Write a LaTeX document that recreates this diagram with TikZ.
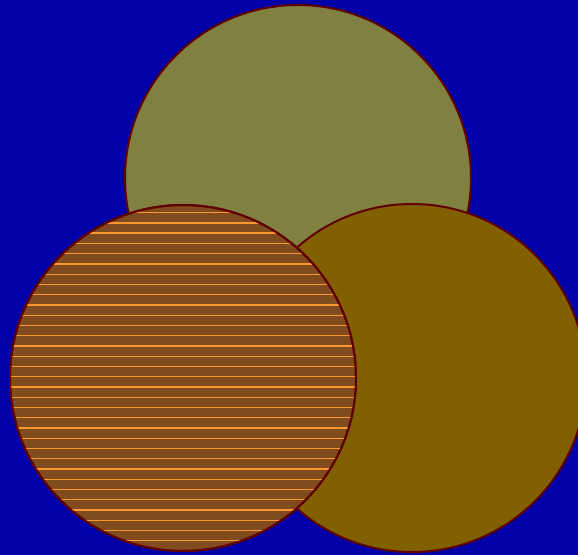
\documentclass[tikz,border=0pt]{standalone}
\usepackage{xcolor}
\usepackage{tikz}
\definecolor{bgblue}{RGB}{0,0,168}
\definecolor{topolive}{RGB}{128,128,64}
\definecolor{rightolive}{RGB}{128,96,0}
\definecolor{leftbrown}{RGB}{128,76,30}
\definecolor{hatchorange}{RGB}{250,150,50}
\definecolor{rimred}{RGB}{96,0,0}
\tikzset{
  disc/.style={draw=rimred, line width=2pt},
  topdisc/.style={disc, fill=topolive},
  rightdisc/.style={disc, fill=rightolive},
  leftdisc/.style={disc, fill=leftbrown},
  hatchline/.style={draw=hatchorange, line width=1.4pt},
}

\begin{document}
\begin{tikzpicture}[x=1pt, y=1pt]
  \fill[bgblue] (0,0) rectangle (578,555);
  \useasboundingbox (0,0) rectangle (578,555);
  \clip (0,0) rectangle (578,555);

  % three discs, left one on top
  \path[topdisc] (298,377) circle (173);
  \path[rightdisc] (412,177) circle (174);
  \path[leftdisc] (183,177) circle (173);

  % horizontal hatching in the left disc
  \begin{scope}
    \clip (183,177) circle (172);
    \foreach \k in {0,...,33}
      \draw[hatchline] (8,{342.3-10.25*\k}) -- (358,{342.3-10.25*\k});
  \end{scope}
  \draw[draw=rimred, line width=2pt] (183,177) circle (173);
\end{tikzpicture}
\end{document}
